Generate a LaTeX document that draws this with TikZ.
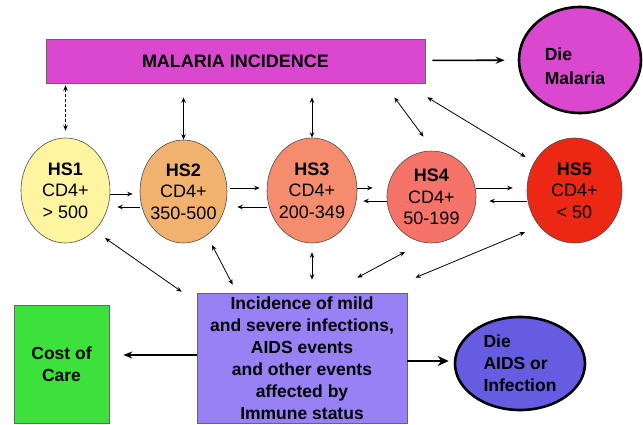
\documentclass[tikz,border=0pt]{standalone}
\usepackage{fontspec}
\setmainfont{Liberation Sans}
\usetikzlibrary{shapes.geometric,arrows.meta}

\definecolor{malariafill}{RGB}{218,72,208}
\definecolor{hsone}{RGB}{255,245,160}
\definecolor{hstwo}{RGB}{240,178,110}
\definecolor{hsthree}{RGB}{246,140,110}
\definecolor{hsfour}{RGB}{246,115,105}
\definecolor{hsfive}{RGB}{236,40,20}
\definecolor{incfill}{RGB}{152,128,245}
\definecolor{aidsfill}{RGB}{102,92,225}
\definecolor{costfill}{RGB}{60,225,60}

\begin{document}
\begin{tikzpicture}[
  x=1pt, y=-1pt,
  font=\bfseries\fontsize{17.5}{22}\selectfont,
  >={Stealth[length=5.5pt,width=4.5pt]},
  link/.style={<->, line width=0.8pt},
  onearrow/.style={->, line width=0.8pt},
  hsnode/.style={ellipse, draw=black!70, line width=0.6pt, inner sep=-8pt, align=center,
    font=\fontsize{18}{21.5}\selectfont},
  boxnode/.style={rectangle, draw=black!60, line width=0.6pt, inner sep=0pt, align=center},
  dienode/.style={ellipse, draw=black, line width=2.6pt, inner sep=0pt, align=left}
]
\useasboundingbox (0,0) rectangle (643,425);

% ---- malaria row ----
\node[boxnode, fill=malariafill, minimum width=379pt, minimum height=44pt,
  font=\bfseries\fontsize{18}{22}\selectfont] (malaria) at (235.5,61) {MALARIA INCIDENCE};
\node[dienode, fill=malariafill, minimum width=122pt, minimum height=106pt] (diemal) at (580,60) {};
\node[align=left, inner sep=0pt, font=\bfseries\fontsize{17.5}{24}\selectfont] (diemallab)
  at ([xshift=-5pt, yshift=-6pt]diemal.center) {Die\\Malaria};

% ---- health states (CD4+ strata) ----
\node[hsnode, fill=hsone,   minimum width=89pt, minimum height=105pt] (hs1) at (65.5,190.5)  {\textbf{HS1}\\CD4+\\> 500};
\node[hsnode, fill=hstwo,   minimum width=87pt, minimum height=103pt] (hs2) at (183.5,191.5) {\textbf{HS2}\\CD4+\\350-500};
\node[hsnode, fill=hsthree, minimum width=90pt, minimum height=105pt] (hs3) at (312,190.5)   {\textbf{HS3}\\CD4+\\200-349};
\node[hsnode, fill=hsfour,  minimum width=89pt, minimum height=92pt]  (hs4) at (431.5,197)   {\textbf{HS4}\\CD4+\\50-199};
\node[hsnode, fill=hsfive,  minimum width=95pt, minimum height=105pt] (hs5) at (574.5,190.5) {\textbf{HS5}\\CD4+\\< 50};

% ---- bottom row ----
\node[boxnode, fill=incfill, minimum width=210pt, minimum height=130pt] (inc) at (302,358)
  {Incidence of mild\\and severe infections,\\AIDS events\\and other events\\affected by\\Immune status};
\node[boxnode, fill=costfill, minimum width=95pt, minimum height=118pt] (cost) at (61.5,364) {Cost of\\Care};
\node[dienode, fill=aidsfill, minimum width=130pt, minimum height=93pt] (dieaids) at (520,363.5) {Die\\AIDS or\\Infection};

% ---- malaria links ----
\draw[->, line width=1.6pt, >={Stealth[length=9pt,width=7pt]}, shorten <=7pt, shorten >=13pt] (malaria) -- (diemal);
\draw[link, densely dashed, shorten <=2pt, shorten >=7pt] (hs1.north |- malaria.south) -- (hs1.north);
\draw[link, shorten <=14pt] (hs2.north |- malaria.south) -- (hs2.north);
\draw[link, shorten <=14pt] (hs3.north |- malaria.south) -- (hs3.north);
\draw[link] ([xshift=-31pt, yshift=-14pt]malaria.south east) -- ([xshift=-8pt, yshift=14pt]hs4.north);
\draw[link, shorten >=10pt] ([xshift=2pt, yshift=-14pt]malaria.south east) -- (hs5.145);

% ---- transitions between health states ----
\draw[onearrow, shorten >=7pt] ([yshift=-3.5pt]hs1.east) -- ([yshift=-3.5pt]hs1.east -| hs2.west);
\draw[onearrow, shorten >=7pt] ([yshift=-15.5pt]hs2.west) -- ([yshift=-15.5pt]hs2.west -| hs1.east);
\draw[onearrow, shorten <=3pt, shorten >=7pt] ([yshift=3.5pt]hs2.east) -- ([yshift=3.5pt]hs2.east -| hs3.west);
\draw[onearrow, shorten >=10pt] ([yshift=-16.5pt]hs3.west) -- ([yshift=-16.5pt]hs3.west -| hs2.east);
\draw[onearrow, shorten >=14pt] ([yshift=2.5pt]hs3.east) -- ([yshift=2.5pt]hs3.east -| hs4.west);
\draw[onearrow, shorten >=6pt] ([yshift=-4pt]hs4.west) -- ([yshift=-4pt]hs4.west -| hs3.east);
\draw[onearrow, shorten >=14pt] ([yshift=9pt]hs4.east) -- ([yshift=9pt]hs4.east -| hs5.west);
\draw[onearrow, shorten >=13pt] ([yshift=-10.5pt]hs5.west) -- ([yshift=-10.5pt]hs5.west -| hs4.east);

% ---- health states to infections ----
\draw[link] ([xshift=39.5pt, yshift=-47.5pt]hs1.center) -- ([xshift=-15pt, yshift=1pt]inc.north west);
\draw[link] ([xshift=28.5pt, yshift=-53.5pt]hs2.center) -- ([xshift=36pt, yshift=8pt]inc.north west);
\draw[link, shorten <=9pt, shorten >=13pt] (hs3.south) -- (hs3.south |- inc.north);
\draw[link] ([xshift=-26.5pt, yshift=-55pt]hs4.center) -- ([xshift=-50pt, yshift=15pt]inc.north east);
\draw[link] ([xshift=-49.5pt, yshift=-41.5pt]hs5.center) -- ([xshift=8pt, yshift=15pt]inc.north east);

% ---- outcomes ----
\draw[->, line width=1.8pt, >={Stealth[length=9pt,width=7pt]}, shorten >=14pt] ([yshift=3pt]inc.west) -- ([yshift=3pt]inc.west -| cost.east);
\draw[->, line width=2.6pt, >={Stealth[length=11pt,width=10pt]}, shorten >=5pt] ([yshift=-3pt]inc.east) -- ([yshift=-3pt]inc.east -| dieaids.west);
\end{tikzpicture}
\end{document}
